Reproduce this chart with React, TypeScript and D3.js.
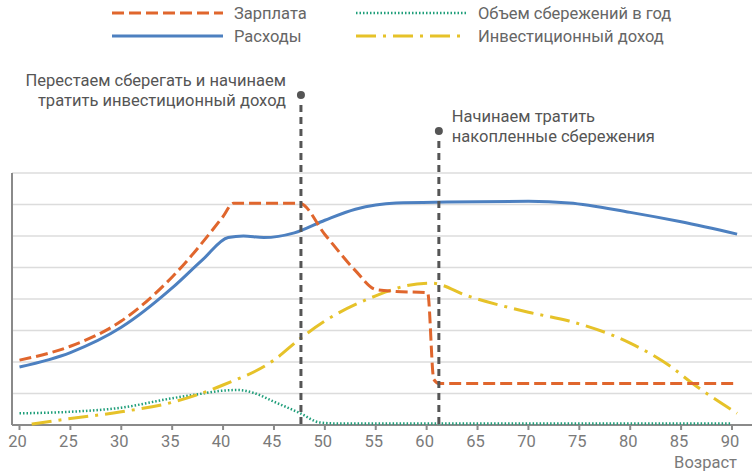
import React, { useEffect, useRef } from 'react';
import * as d3 from 'd3';

type Pt = [number, number];

const xTicks = [20, 25, 30, 35, 40, 45, 50, 55, 60, 65, 70, 75, 80, 85, 90];
const gridLevels = [1, 2, 3, 4, 5, 6, 7, 8];

const salary: Pt[] = [
  [20, 2.06], [25, 2.5], [30, 3.3], [35, 4.7], [40, 6.62], [41, 7.04], [47.5, 7.04],
  [50, 6.05], [53, 4.9], [55, 4.3], [57, 4.24], [60.1, 4.2], [60.7, 1.45], [61.2, 1.32], [90.5, 1.32],
];
const expenses: Pt[] = [
  [20, 1.84], [25, 2.3], [30, 3.1], [35, 4.35], [38, 5.25], [40.5, 5.95], [42, 6.0], [44, 5.95],
  [47, 6.1], [50, 6.5], [53, 6.85], [57, 7.05], [62, 7.08], [70, 7.1], [74, 7.05], [80, 6.75],
  [85, 6.45], [90.5, 6.06],
];
const savings: Pt[] = [
  [20, 0.37], [25, 0.42], [30, 0.55], [35, 0.85], [38, 1.0], [40, 1.09], [41.5, 1.11], [43, 1.02],
  [45, 0.74], [47.6, 0.37], [49.5, 0.08], [51, 0.05], [90, 0.05],
];
const investIncome: Pt[] = [
  [21.2, 0.03], [24, 0.16], [30, 0.42], [35, 0.72], [40, 1.27], [45, 2.06], [47.6, 2.75],
  [50, 3.3], [55, 4.1], [58, 4.42], [60.5, 4.5], [64, 4.1], [70, 3.58], [74, 3.3], [80, 2.6],
  [84, 1.85], [86, 1.35], [90.5, 0.37],
];

const markers = [
  { age: 47.65, dotY: 95, lines: ['Перестаем сберегать и начинаем', 'тратить инвестиционный доход'], side: 'left' },
  { age: 61.2, dotY: 131, lines: ['Начинаем тратить', 'накопленные сбережения'], side: 'right' },
];

const legendItems = [
  { label: 'Зарплата', color: '#e0662d', dash: '12,5', width: 3, col: 0, row: 0 },
  { label: 'Объем сбережений в год', color: '#1f9e7a', dash: '1.5,2', width: 2.5, col: 1, row: 0 },
  { label: 'Расходы', color: '#4d80c0', dash: null, width: 3, col: 0, row: 1 },
  { label: 'Инвестиционный доход', color: '#e6c229', dash: '20,7,3,7', width: 3, col: 1, row: 1 },
];

const App: React.FC = () => {
  const ref = useRef<SVGSVGElement | null>(null);

  useEffect(() => {
    const svg = d3.select(ref.current);
    svg.selectAll('*').remove();

    const x = d3.scaleLinear().domain([20, 90]).range([19.5, 732]);
    const y = d3.scaleLinear().domain([0, 8]).range([425, 173]);
    const font = 'Roboto, "Liberation Sans", Arial, sans-serif';
    const fs = 16.5;

    // grid
    svg.append('g')
      .selectAll('line')
      .data(gridLevels)
      .enter()
      .append('line')
      .attr('x1', 12).attr('x2', 752)
      .attr('y1', d => y(d)).attr('y2', d => y(d))
      .attr('stroke', '#dcdcdc').attr('stroke-width', 1.5);

    // axes
    svg.append('line').attr('x1', 12).attr('x2', 12).attr('y1', y(8)).attr('y2', y(0))
      .attr('stroke', '#8a8a8a').attr('stroke-width', 2);
    svg.append('line').attr('x1', 12).attr('x2', 752).attr('y1', y(0)).attr('y2', y(0))
      .attr('stroke', '#8a8a8a').attr('stroke-width', 2);

    const xg = svg.append('g');
    xg.selectAll('line')
      .data(xTicks)
      .enter()
      .append('line')
      .attr('x1', d => x(d)).attr('x2', d => x(d))
      .attr('y1', y(0)).attr('y2', y(0) + 5)
      .attr('stroke', '#8a8a8a').attr('stroke-width', 2);
    xg.selectAll('text')
      .data(xTicks)
      .enter()
      .append('text')
      .attr('x', d => x(d) - 2)
      .attr('y', 447)
      .attr('text-anchor', 'middle')
      .attr('font-family', font)
      .attr('font-size', fs)
      .attr('fill', '#7a7a7a')
      .text(d => d);
    svg.append('text')
      .attr('x', 737).attr('y', 468)
      .attr('text-anchor', 'end')
      .attr('font-family', font)
      .attr('font-size', fs)
      .attr('fill', '#7a7a7a')
      .text('Возраст');

    const line = d3.line<Pt>().x(d => x(d[0])).y(d => y(d[1])).curve(d3.curveMonotoneX);

    const draw = (data: Pt[], color: string, width: number, dash: string | null) => {
      const p = svg.append('path')
        .datum(data)
        .attr('fill', 'none')
        .attr('stroke', color)
        .attr('stroke-width', width)
        .attr('d', line);
      if (dash) p.attr('stroke-dasharray', dash);
    };

    draw(savings, '#1f9e7a', 2.5, '1.5,2');
    draw(investIncome, '#e6c229', 3, '20,7,3,7');
    draw(expenses, '#4d80c0', 3, null);
    draw(salary, '#e0662d', 3, '12,5');

    // markers
    markers.forEach(m => {
      const mx = x(m.age);
      svg.append('line')
        .attr('x1', mx).attr('x2', mx)
        .attr('y1', m.dotY + 10).attr('y2', y(0))
        .attr('stroke', '#555').attr('stroke-width', 3)
        .attr('stroke-dasharray', '7,5');
      svg.append('circle').attr('cx', mx).attr('cy', m.dotY).attr('r', 4).attr('fill', '#555');
      const t = svg.append('text')
        .attr('font-family', font)
        .attr('font-size', fs)
        .attr('fill', '#555')
        .attr('text-anchor', m.side === 'left' ? 'end' : 'start');
      m.lines.forEach((s, i) => {
        t.append('tspan')
          .attr('x', m.side === 'left' ? mx - 15 : mx + 13)
          .attr('y', m.dotY - 9 + i * 20)
          .text(s);
      });
    });

    // legend
    const lg = svg.append('g');
    legendItems.forEach(it => {
      const x0 = it.col === 0 ? 112 : 356;
      const ly = it.row === 0 ? 13 : 36;
      const l = lg.append('line')
        .attr('x1', x0).attr('x2', x0 + 111)
        .attr('y1', ly).attr('y2', ly)
        .attr('stroke', it.color).attr('stroke-width', it.width);
      if (it.dash) l.attr('stroke-dasharray', it.dash);
      lg.append('text')
        .attr('x', x0 + 122).attr('y', ly + 6)
        .attr('font-family', font)
        .attr('font-size', fs)
        .attr('fill', '#666')
        .text(it.label);
    });
  }, []);

  return (
    <svg ref={ref} width={755} height={471}
      style={{ position: 'absolute', left: 0, top: 0, background: '#fff' }} />
  );
};

export default App;
